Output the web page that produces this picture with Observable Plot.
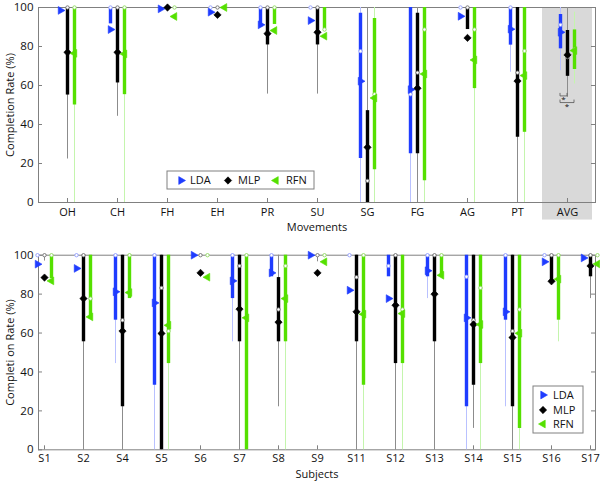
<!DOCTYPE html>
<html><head><meta charset="utf-8">
<script src="https://cdn.jsdelivr.net/npm/d3@7"></script>
<script src="https://cdn.jsdelivr.net/npm/@observablehq/plot@0.6"></script>
<style>
body{margin:0;background:#fff;}
#chart{width:600px;}
#chart svg{display:block;}
</style></head><body><div id="chart"></div>
<script>
// ---------- DATA ----------
const movements = ["OH","CH","FH","EH","PR","SU","SG","FG","AG","PT","AVG"];
const subjects = ["S1","S2","S4","S5","S6","S7","S8","S9","S11","S12","S13","S14","S15","S16","S17"];
const yTicks = [0, 20, 40, 60, 80, 100];
const seriesNames = ["LDA", "MLP", "RFN"];

// Movements panel (mean marker, median circle, thick box range, thin whisker range)
const movLDA = {
  mean:    [98.5, 88.7, 99.3, 97.6, 91.1, 93.3, 62.2, 57.9, 95.5, 88.9, 87.3],
  median:  [null, 100, null, 100, 100, 100, 77.6, 55.5, 100, 100, 91.1],
  boxLo:   [null, 91.6, null, null, 89.9, null, 22.6, 25, null, 80.7, 78.8],
  boxHi:   [null, 100, null, null, 100, null, 97.1, 100, null, 100, 96.4],
  whiskLo: [null, null, null, null, null, null, 0, 0, null, 66.8, 67.6],
  whiskHi: [null, null, null, null, null, null, 100, 100, null, 100, 100]
};
const movMLP = {
  mean:    [77, 77, 100, 96.2, 86.6, 87.3, 28.3, 58.6, 84.4, 62.3, 75.7],
  median:  [100, 100, 100, 100, 100, 100, 11.1, 66.6, 100, 66.6, 74.5],
  boxLo:   [55.1, 61.3, null, null, 80.8, 80.8, 0, 25, 88.7, 33.4, 64.7],
  boxHi:   [100, 100, null, null, 100, 100, 47.1, 97.1, 100, 100, 88.2],
  whiskLo: [22.3, 44.2, null, null, 55.6, 55.6, 0, 0, null, 0, 53.9],
  whiskHi: [100, 100, null, null, 100, 100, 100, 100, null, 100, 100]
};
const movRFN = {
  mean:    [76.5, 76.2, 95.4, 100, 88.2, 85.3, 53.6, 65.9, 73.1, 65.1, 77.9],
  median:  [100, 100, 100, null, 100, 88.7, 55.5, 88.7, 88.7, 77.7, 78.5],
  boxLo:   [50, 55.3, null, null, 91.3, 89, 16.8, 11.1, 58.4, 36, 68.2],
  boxHi:   [100, 100, null, null, 100, 100, 94.3, 100, 100, 100, 88.5],
  whiskLo: [0, 0, null, null, null, null, 0, 0, 0, 0, 60.8],
  whiskHi: [100, 100, null, null, null, null, 100, 100, 100, 100, 97.6]
};
// significance brackets on AVG
const sigPairs = [
  {cat: "AVG", from: "LDA", to: "MLP", level: 54.4},
  {cat: "AVG", from: "LDA", to: "RFN", level: 51}
];

// Subjects panel
const subLDA = {
  mean:    [95.4, 93.2, 81.2, 75.5, 100, 86.8, 90.9, 100, 82, 77.7, 92, 67.8, 70.9, 96.6, 98.6],
  median:  [100, 100, 100, 100, null, 100, 100, null, 100, 94.5, 100, 88.9, 100, 100, null],
  boxLo:   [null, null, 66.6, 33.2, null, 77.7, 88.9, null, null, 88.9, 88.9, 22.1, 66.6, null, null],
  boxHi:   [null, null, 100, 100, null, 100, 100, null, null, 100, 100, 100, 100, null, null],
  whiskLo: [null, null, 44.3, 0, null, 55.5, null, null, null, null, 77.7, 0, 22.1, null, null],
  whiskHi: [null, null, 100, 100, null, 100, null, null, null, null, 100, 100, 100, null, null]
};
const subMLP = {
  mean:    [88.5, 77.7, 61, 59.8, 90.9, 72.3, 65.6, 90.9, 70.9, 74.3, 80, 64.4, 57.7, 86.6, 94.5],
  median:  [100, 100, 66.6, 83.2, 100, 94.5, 72.1, 100, 88.7, 100, 100, 66.6, 61, 100, 100],
  boxLo:   [null, 55.5, 22.1, 0, null, 55.5, 55.5, null, 55.5, 44.3, 55.5, 33.2, 22.1, 86.8, 88.9],
  boxHi:   [null, 100, 100, 100, null, 100, 88.5, null, 100, 100, 100, 100, 100, 100, 100],
  whiskLo: [97, 0, 0, 0, null, 0, 22.1, 96.6, 0, 0, 0, 11, 0, null, 77.7],
  whiskHi: [100, 100, 100, 100, null, 100, 100, 100, 100, 100, 100, 100, 100, null, 100]
};
const subRFN = {
  mean:    [86.8, 68.3, 80.8, 64, 88.7, 67.8, 77.7, 96.6, 69.7, 70, 89.7, 64.4, 59.9, 87.7, 95.5],
  median:  [100, 77.7, 100, 61, 100, 100, 94.5, 100, 100, 72.1, 100, 83.2, 72.1, 100, 100],
  boxLo:   [88, 67.1, 77.7, 44.3, null, 0, 55.5, null, 33.2, 44.3, 88.9, 44.3, 11, 66.6, null],
  boxHi:   [100, 100, 100, 100, null, 100, 100, null, 100, 100, 100, 100, 100, 100, null],
  whiskLo: [null, null, null, 0, null, null, 0, null, 0, 0, null, 0, 0, 55.5, null],
  whiskHi: [null, null, null, 100, null, null, 100, null, 100, 100, null, 100, 100, 100, null]
};

// ---------- STYLE ----------
const FONT = "'Open Sans', 'DejaVu Sans', sans-serif";
const AXIS = "#808080";
const style = {
  LDA: {dark: "#1f3cff", light: "#b9c1ff", ring: "#8e9bff", symbol: "triangle", d3sym: d3.symbolTriangle, rotate: 90, r: 2.9, dx: -7},
  MLP: {dark: "#000000", light: "#8c8c8c", ring: "#6e6e6e", symbol: "diamond2", d3sym: d3.symbolDiamond2, rotate: 0, r: 3.3, dx: 0},
  RFN: {dark: "#55e000", light: "#c4f5ad", ring: "#8fd860", symbol: "triangle", d3sym: d3.symbolTriangle, rotate: -90, r: 2.9, dx: 7}
};

function toRows(cats, s, name) {
  return cats.map((c, i) => ({cat: c, series: name, mean: s.mean[i], median: s.median[i],
    boxLo: s.boxLo[i], boxHi: s.boxHi[i], whiskLo: s.whiskLo[i], whiskHi: s.whiskHi[i]}));
}

function seriesMarks(rows, name) {
  const st = style[name];
  return [
    Plot.ruleX(rows.filter(d => d.whiskLo != null), {x: "cat", y1: "whiskLo", y2: "whiskHi", dx: st.dx, stroke: st.light, strokeWidth: 1}),
    Plot.ruleX(rows.filter(d => d.boxLo != null), {x: "cat", y1: "boxLo", y2: "boxHi", dx: st.dx, stroke: st.dark, strokeWidth: 3.4})
  ];
}
function medianMarks(rows, name) {
  const st = style[name];
  return Plot.dot(rows.filter(d => d.median != null), {x: "cat", y: "median", dx: st.dx, r: 1.7, fill: "white", stroke: st.ring, strokeWidth: 0.9});
}
function meanMarks(rows, name) {
  const st = style[name];
  return Plot.dot(rows.filter(d => d.mean != null), {x: "cat", y: "mean", dx: st.dx, symbol: st.symbol, r: st.r, rotate: st.rotate, fill: st.dark, stroke: st.dark, strokeWidth: 0.6});
}

function legendMark(box, entries, fontSize) {
  return () => {
    const g = d3.create("svg:g");
    g.append("rect").attr("x", box.x).attr("y", box.y).attr("width", box.w).attr("height", box.h)
      .attr("fill", "white").attr("stroke", AXIS).attr("stroke-width", 1);
    entries.forEach(e => {
      const st = style[e.name];
      g.append("path")
        .attr("d", d3.symbol().type(st.d3sym).size(Math.PI * st.r * st.r)())
        .attr("transform", `translate(${e.sx},${e.y}) rotate(${st.rotate})`)
        .attr("fill", st.dark).attr("stroke", st.dark).attr("stroke-width", 0.6);
      g.append("text").attr("x", e.tx).attr("y", e.y).attr("dy", "0.35em").attr("text-anchor", "start")
        .attr("font-size", fontSize).attr("font-family", FONT).attr("fill", "#111").text(e.name);
    });
    return g.node();
  };
}

function sigMark(pairs) {
  return (index, scales) => {
    const x = scales.x, y = scales.y;
    const bw = typeof x.bandwidth === "function" ? x.bandwidth() : 0;
    const g = d3.create("svg:g");
    pairs.forEach(p => {
      const cx = x(p.cat) + bw / 2;
      const x1 = cx + style[p.from].dx, x2 = cx + style[p.to].dx;
      const yy = y(p.level);
      g.append("path").attr("d", `M${x1},${yy - 3}V${yy}H${x2}V${yy - 3}`)
        .attr("fill", "none").attr("stroke", "#555").attr("stroke-width", 0.8);
      g.append("text").attr("x", (x1 + x2) / 2).attr("y", yy + 6).attr("text-anchor", "middle")
        .attr("font-size", 8).attr("font-family", FONT).text("*");
    });
    return g.node();
  };
}

function panel({cats, data, height, marginTop, marginBottom, yTitle, xTitle, legend, highlight, sig, tickPad, titleDy}) {
  const W = 600, mL = 38, mR = 5;
  const pw = W - mL - mR, ph = height - marginTop - marginBottom;
  const rows = seriesNames.map(n => toRows(cats, data[n], n));
  const marks = [];
  if (highlight) marks.push(Plot.barY([highlight], {x: d => d, y1: () => 100, y2: () => -9, fill: "#d9d9d9"}));
  marks.push(
    Plot.frame({stroke: AXIS}),
    Plot.tickY(yTicks, {y: d => d, insetRight: pw - 4, stroke: AXIS}),
    Plot.tickY(yTicks, {y: d => d, insetLeft: pw - 4, stroke: AXIS}),
    Plot.tickX(cats, {x: d => d, insetTop: ph - 4, stroke: AXIS}),
    Plot.axisX({tickSize: 0, tickPadding: tickPad, fontSize: 11, fill: "#111"}),
    Plot.axisY({ticks: yTicks, tickSize: 0, tickPadding: 5, fontSize: 11.5, fill: "#111"}),
    Plot.text([xTitle], {text: d => d, frameAnchor: "bottom", dy: titleDy, fontSize: 11, fill: "#111"}),
    Plot.text([yTitle], {text: d => d, frameAnchor: "left", textAnchor: "middle", dx: -28, rotate: -90, fontSize: 11, fill: "#111"})
  );
  seriesNames.forEach((n, i) => marks.push(...seriesMarks(rows[i], n)));
  seriesNames.forEach((n, i) => marks.push(medianMarks(rows[i], n)));
  seriesNames.forEach((n, i) => marks.push(meanMarks(rows[i], n)));
  if (sig) marks.push(sigMark(sig));
  marks.push(legendMark(legend.box, legend.entries, 11));
  return Plot.plot({
    width: W, height, marginLeft: mL, marginRight: mR, marginTop, marginBottom,
    style: {fontFamily: FONT, fontSize: "11.5px", background: "white", color: "#111", overflow: "visible"},
    x: {domain: cats, padding: 0, label: null},
    y: {domain: [0, 100], label: null},
    marks
  });
}

const topChart = panel({
  cats: movements, data: {LDA: movLDA, MLP: movMLP, RFN: movRFN},
  height: 240, marginTop: 7, marginBottom: 38, tickPad: 6, titleDy: 28,
  yTitle: "Completion Rate (%)", xTitle: "Movements", highlight: "AVG", sig: sigPairs,
  legend: {box: {x: 167, y: 171, w: 147, h: 18}, entries: [
    {name: "LDA", sx: 181, tx: 190, y: 180.5},
    {name: "MLP", sx: 228, tx: 238, y: 180.5},
    {name: "RFN", sx: 276, tx: 286, y: 180.5}]}
});
const bottomChart = panel({
  cats: subjects, data: {LDA: subLDA, MLP: subMLP, RFN: subRFN},
  height: 244, marginTop: 14.7, marginBottom: 34.7, tickPad: 4, titleDy: 28.5,
  yTitle: "Completi on Rate (%)", xTitle: "Subjects",
  legend: {box: {x: 533, y: 146, w: 50, h: 47}, entries: [
    {name: "LDA", sx: 543, tx: 553, y: 155},
    {name: "MLP", sx: 543, tx: 553, y: 170},
    {name: "RFN", sx: 543, tx: 553, y: 184}]}
});
document.getElementById("chart").append(topChart, bottomChart);
</script></body></html>
